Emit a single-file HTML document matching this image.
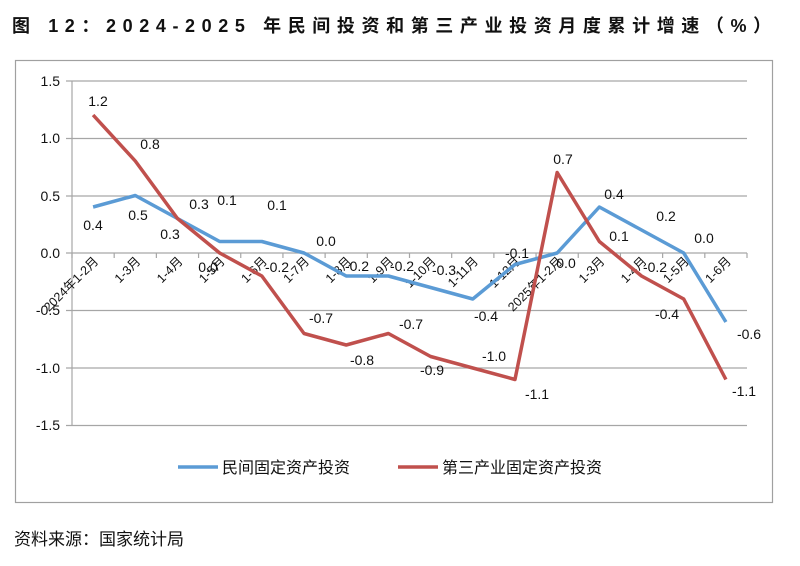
<!DOCTYPE html>
<html><head><meta charset="utf-8"><style>
body{margin:0;width:800px;height:566px;background:#fff;overflow:hidden}
svg{display:block}
text{font-family:"Liberation Sans","Noto Sans CJK SC",sans-serif;fill:#111}
</style></head><body>
<svg width="800" height="566" viewBox="0 0 800 566">
<text x="12" y="32" font-size="18" font-weight="bold" letter-spacing="6.6">图 12：2024-2025 年民间投资和第三产业投资月度累计增速（%）</text>
<rect x="15.5" y="60.5" width="757" height="442" fill="#fff" stroke="#a0a0a0" stroke-width="1.2"/>
<g stroke="#a6a6a6" stroke-width="1.2">
<line x1="66" y1="81" x2="747" y2="81"/>
<line x1="66" y1="138.5" x2="747" y2="138.5"/>
<line x1="66" y1="196" x2="747" y2="196"/>
<line x1="66" y1="253" x2="747" y2="253"/>
<line x1="66" y1="310.5" x2="747" y2="310.5"/>
<line x1="66" y1="368" x2="747" y2="368"/>
<line x1="66" y1="425.5" x2="747" y2="425.5"/>
<line x1="72" y1="81" x2="72" y2="426"/>
</g>
<g stroke="#a6a6a6" stroke-width="1.2" id="ticks"></g>
<g font-size="14" text-anchor="end">
<text x="60" y="86">1.5</text><text x="60" y="143">1.0</text><text x="60" y="201">0.5</text><text x="60" y="258">0.0</text><text x="60" y="315">-0.5</text><text x="60" y="373">-1.0</text><text x="60" y="430">-1.5</text>
</g>
<g id="cats" font-size="12.5"></g>
<polyline id="blue" fill="none" stroke="#5b9bd5" stroke-width="3.5" stroke-linejoin="round"/>
<polyline id="red" fill="none" stroke="#c0504d" stroke-width="3.5" stroke-linejoin="round"/>
<g font-size="14" text-anchor="middle">
<text x="93" y="230">0.4</text><text x="138" y="220">0.5</text><text x="199" y="209">0.3</text><text x="227" y="205">0.1</text><text x="277" y="210">0.1</text><text x="326" y="246">0.0</text><text x="357" y="271">-0.2</text><text x="402" y="271">-0.2</text><text x="444" y="275">-0.3</text><text x="486" y="321">-0.4</text><text x="517" y="258">-0.1</text><text x="566" y="268">0.0</text><text x="614" y="199">0.4</text><text x="666" y="221">0.2</text><text x="704" y="243">0.0</text><text x="749" y="339">-0.6</text>
<text x="98" y="106">1.2</text><text x="150" y="149">0.8</text><text x="170" y="239">0.3</text><text x="208" y="272">0.0</text><text x="277" y="272">-0.2</text><text x="321" y="323">-0.7</text><text x="362" y="365">-0.8</text><text x="411" y="329">-0.7</text><text x="432" y="375">-0.9</text><text x="494" y="361">-1.0</text><text x="537" y="399">-1.1</text><text x="563" y="164">0.7</text><text x="619" y="241">0.1</text><text x="655" y="272">-0.2</text><text x="667" y="319">-0.4</text><text x="744" y="396">-1.1</text>
</g>
<line x1="178" y1="467" x2="218" y2="467" stroke="#5b9bd5" stroke-width="3.5"/>
<text x="222" y="473" font-size="16">民间固定资产投资</text>
<line x1="398" y1="467" x2="438" y2="467" stroke="#c0504d" stroke-width="3.5"/>
<text x="442" y="473" font-size="16">第三产业固定资产投资</text>
<text x="14" y="545" font-size="17">资料来源：国家统计局</text>
</svg>
<script>
var ns="http://www.w3.org/2000/svg";
var b=[0.4,0.5,0.3,0.1,0.1,0.0,-0.2,-0.2,-0.3,-0.4,-0.1,0.0,0.4,0.2,0.0,-0.6];
var r=[1.2,0.8,0.3,0.0,-0.2,-0.7,-0.8,-0.7,-0.9,-1.0,-1.1,0.7,0.1,-0.2,-0.4,-1.1];
var cats=["2024年1-2月","1-3月","1-4月","1-5月","1-6月","1-7月","1-8月","1-9月","1-10月","1-11月","1-12月","2025年1-2月","1-3月","1-4月","1-5月","1-6月"];
var w=(747-72)/16;
function X(i){return 72+w*(i+0.5)}
function Y(v){return 253-v*115}
document.getElementById("blue").setAttribute("points",b.map(function(v,i){return X(i)+","+Y(v)}).join(" "));
document.getElementById("red").setAttribute("points",r.map(function(v,i){return X(i)+","+Y(v)}).join(" "));
var t=document.getElementById("ticks"),c=document.getElementById("cats");
for(var i=0;i<=16;i++){var l=document.createElementNS(ns,"line");var x=72+w*i;l.setAttribute("x1",x);l.setAttribute("x2",x);l.setAttribute("y1",253);l.setAttribute("y2",258);t.appendChild(l);}
cats.forEach(function(s,i){var e=document.createElementNS(ns,"text");var x=X(i)+6,y=262;e.setAttribute("x",x);e.setAttribute("y",y);e.setAttribute("text-anchor","end");e.setAttribute("transform","rotate(-45 "+x+" "+y+")");e.textContent=s;c.appendChild(e);});
</script>
</body></html>
